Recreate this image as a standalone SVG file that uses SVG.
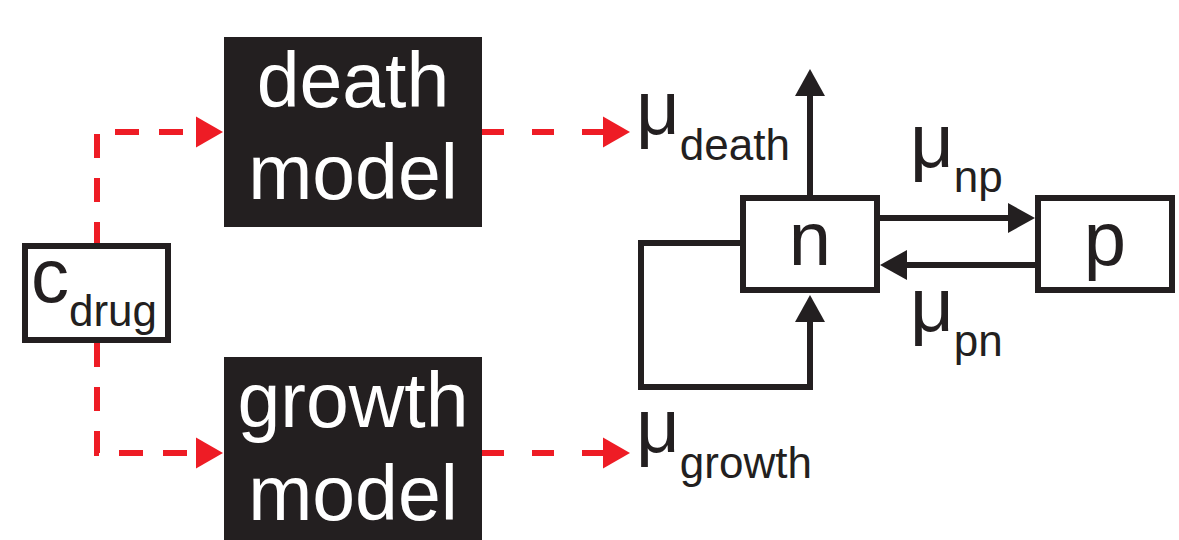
<svg xmlns="http://www.w3.org/2000/svg" width="1179" height="540" viewBox="0 0 1179 540">
<style>
text{font-family:"Liberation Sans",Arial,sans-serif;fill:#231f20}
.big{font-size:76px}
.sub{font-size:44px}
.wt{fill:#ffffff;font-size:77px}
.box{fill:#ffffff;stroke:#231f20;stroke-width:6}
.model{fill:#231f20}
.red{fill:none;stroke:#ee1c25;stroke-width:6;stroke-dasharray:24 20}
.red2{fill:none;stroke:#ee1c25;stroke-width:6;stroke-dasharray:22 28}
.blk{fill:none;stroke:#231f20;stroke-width:6;stroke-linejoin:miter}
</style>
<defs>
<marker id="ar" markerUnits="userSpaceOnUse" markerWidth="28" markerHeight="31" refX="0" refY="15.5" orient="auto" overflow="visible">
<path d="M0,0 L27,15.5 L0,31 z" fill="#ee1c25"/>
</marker>
<marker id="ab" markerUnits="userSpaceOnUse" markerWidth="28" markerHeight="30" refX="0" refY="15" orient="auto" overflow="visible">
<path d="M0,0 L27,15 L0,30 z" fill="#231f20"/>
</marker>
</defs>
<g id="connectors">
<path class="red" d="M97,246 V132 H196" marker-end="url(#ar)"/>
<path class="red" d="M97,343 V453 H196" marker-end="url(#ar)"/>
<path class="red2" d="M482,132 H603" marker-end="url(#ar)"/>
<path class="red2" d="M482,453 H603" marker-end="url(#ar)"/>
<path class="blk" d="M810,195 V96" marker-end="url(#ab)"/>
<path class="blk" d="M880,218 H1008" marker-end="url(#ab)"/>
<path class="blk" d="M1035,265 H907" marker-end="url(#ab)"/>
<path class="blk" d="M740,243 H641 V387 H810 V322" marker-end="url(#ab)"/>
</g>
<g id="cdrug">
<rect class="box" x="25" y="246" width="143" height="94"/>
<text x="31" y="302" class="big">c<tspan class="sub" dy="24">drug</tspan></text>
</g>
<g id="death-model">
<rect class="model" x="224" y="37" width="258" height="190"/>
<text class="wt" x="353" y="107" text-anchor="middle">death</text>
<text class="wt" x="353" y="199" text-anchor="middle">model</text>
</g>
<g id="growth-model">
<rect class="model" x="224" y="357" width="258" height="192"/>
<text class="wt" x="353" y="427" text-anchor="middle">growth</text>
<text class="wt" x="353" y="520" text-anchor="middle">model</text>
</g>
<g id="n">
<rect class="box" x="743" y="198" width="134" height="92"/>
<text class="big" x="810" y="265" text-anchor="middle">n</text>
</g>
<g id="p">
<rect class="box" x="1038" y="198" width="134" height="92"/>
<text class="big" x="1105" y="265" text-anchor="middle">p</text>
</g>
<g id="labels">
<text class="big" x="636" y="134">μ<tspan class="sub" dy="26">death</tspan></text>
<text class="big" x="636" y="452">μ<tspan class="sub" dy="26">growth</tspan></text>
<text class="big" x="910" y="167">μ<tspan class="sub" dy="25">np</tspan></text>
<text class="big" x="910" y="331">μ<tspan class="sub" dy="25">pn</tspan></text>
</g>
</svg>
